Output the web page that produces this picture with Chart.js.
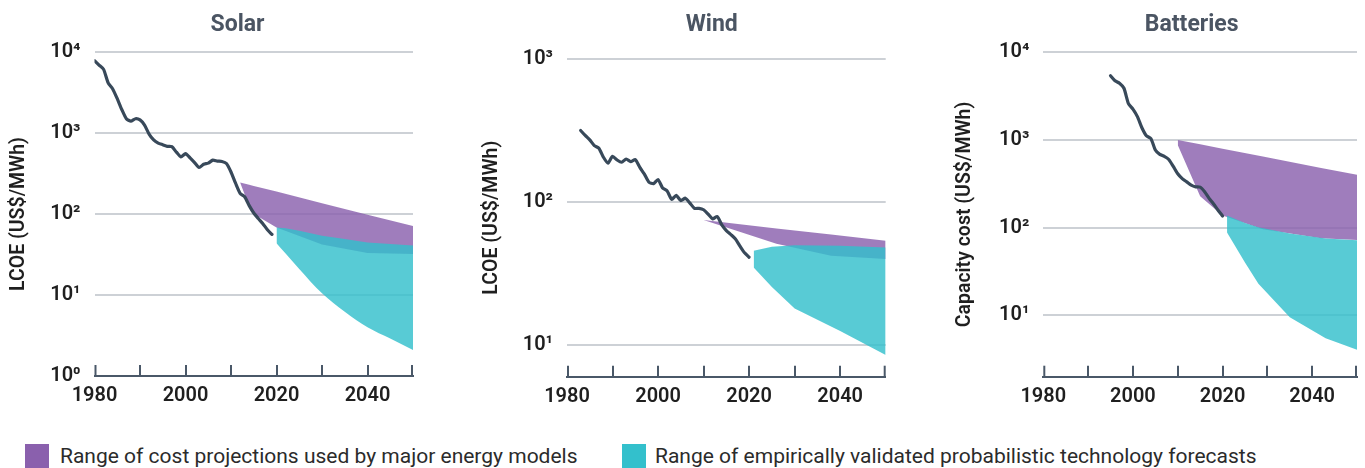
<!DOCTYPE html>
<html>
<head>
<meta charset="utf-8">
<title>Solar, wind and battery cost trajectories</title>
<script src="https://cdn.jsdelivr.net/npm/chart.js@4.4.1/dist/chart.umd.min.js"></script>
<style>
  html, body { margin: 0; padding: 0; background: #fff; }
  body { width: 1365px; height: 468px; overflow: hidden; position: relative; font-family: Roboto, "Liberation Sans", sans-serif; }
  .panel { position: absolute; top: 0; height: 430px; }
  .panel canvas { display: block; }
  .legend-item { position: absolute; top: 444px; height: 24px; white-space: nowrap; }
  .legend-item .swatch { position: absolute; left: 0; top: 0; width: 24px; height: 24px; }
  .legend-item .label { position: absolute; top: -1px; font-size: 21px; line-height: 27px; color: #2b2b2b; }
</style>
</head>
<body>
<div class="panel" style="left:0px;width:430px"><canvas id="solarChart" width="430" height="430"></canvas></div>
<div class="panel" style="left:473px;width:430px"><canvas id="windChart" width="430" height="430"></canvas></div>
<div class="panel" style="left:946px;width:419px"><canvas id="batteryChart" width="419" height="430"></canvas></div>

<div class="legend-item" style="left:25px"><span class="swatch" style="background:#8a60ad"></span><span class="label" style="left:35px">Range of cost projections used by major energy models</span></div>
<div class="legend-item" style="left:622px"><span class="swatch" style="background:#33c0cc"></span><span class="label" style="left:33px">Range of empirically validated probabilistic technology forecasts</span></div>

<script>
// ---- Solar: historical LCOE (US$/MWh) ----
const solarYears = [1980, 1981, 1982, 1983, 1984, 1985, 1986, 1987, 1988, 1989,
                    1990, 1991, 1992, 1993, 1994, 1995, 1996, 1997, 1998, 1999,
                    2000, 2001, 2002, 2003, 2004, 2005, 2006, 2007, 2008, 2009,
                    2010, 2011, 2012, 2013, 2014, 2015, 2016, 2017, 2018, 2019];
const solarCost = [7800, 6900, 6100, 4150, 3500, 2650, 1950, 1500, 1400, 1500,
                   1450, 1250, 970, 820, 750, 717, 685, 680, 580, 507,
                   556, 493, 431, 375, 411, 425, 462, 450, 445, 420,
                   330, 240, 180, 163, 127, 103, 88, 76, 64, 56];
// Solar: energy-model projection range
const solarModelYears = [2012, 2014, 2015, 2020, 2030, 2040, 2050];
const solarModelLow   = [245, 125, 100, 68, 42, 33, 32];
const solarModelHigh  = [245, 230, 222, 189, 136, 98, 71];
// Solar: probabilistic forecast range
const solarForecastYears = [2020, 2022, 2025, 2030, 2035, 2040, 2045, 2050];
const solarForecastLow   = [43.5, 32.5, 21, 10.5, 6.2, 4.0, 2.9, 2.1];
const solarForecastHigh  = [68, 66.5, 62, 54, 49, 44.6, 42.5, 40.8];

// ---- Wind: historical LCOE (US$/MWh) ----
const windYears = [1983, 1984, 1985, 1986, 1987, 1988, 1989, 1990, 1991, 1992,
                   1993, 1994, 1995, 1996, 1997, 1998, 1999, 2000, 2001, 2002,
                   2003, 2004, 2005, 2006, 2007, 2008, 2009, 2010, 2011, 2012,
                   2013, 2014, 2015, 2016, 2017, 2018, 2019, 2020];
const windCost = [315, 291, 271, 247, 237, 205, 186, 208, 196, 189,
                  199, 191, 197, 174, 156, 137, 134, 143, 125, 119,
                  104, 111, 102, 106, 98, 90, 90, 88, 82, 76,
                  79, 69, 63, 59, 55, 49, 44, 41];
const windModelYears = [2010, 2026, 2038, 2050];
const windModelLow   = [74.5, 51, 42, 39.8];
const windModelHigh  = [74.5, 65.2, 59, 53.5];
const windForecastYears = [2021, 2025, 2030, 2040, 2050];
const windForecastLow   = [34.8, 25.4, 18, 12.5, 8.5];
const windForecastHigh  = [45.5, 48.5, 49.7, 49.3, 48];

// ---- Batteries: historical capacity cost (US$/MWh) ----
const batteryYears = [1995, 1996, 1997, 1998, 1999, 2000, 2001, 2002, 2003, 2004,
                      2005, 2006, 2007, 2008, 2009, 2010, 2011, 2012, 2013, 2014,
                      2015, 2016, 2017, 2018, 2019, 2020];
const batteryCost = [5400, 4730, 4440, 3890, 2600, 2250, 1850, 1380, 1120, 1040,
                     770, 685, 650, 600, 500, 412, 363, 333, 305, 292,
                     290, 257, 216, 186, 158, 136];
const batteryModelYears = [2010, 2015, 2020, 2029, 2042, 2050];
const batteryModelLow   = [875, 228, 138, 96, 76, 72.6];
const batteryModelHigh  = [1000, 892, 796, 648, 481, 401];
const batteryForecastYears = [2021, 2025, 2028, 2035, 2043, 2050];
const batteryForecastLow   = [88, 40, 23, 9.5, 5.5, 4.05];
const batteryForecastHigh  = [138, 113, 101, 86, 75.5, 72];

// ---- Axis ticks ----
const yearTicks = [1980, 1990, 2000, 2010, 2020, 2030, 2040, 2050];
const yearLabels = [1980, 2000, 2020, 2040];
const superscripts = ['\u2070', '\u00B9', '\u00B2', '\u00B3', '\u2074'];

// ---- Styling ----
const PURPLE_FILL = 'rgba(138, 96, 173, 0.82)';
const TEAL_FILL = 'rgba(51, 192, 204, 0.82)';
const LINE_COLOR = '#38495a';
const AXIS_COLOR = '#4a5868';
const GRID_COLOR = '#cdd1d6';
const TICK_FONT = { family: 'Roboto, "Liberation Sans", sans-serif', size: 20, weight: 600 };
const AXIS_TITLE_FONT = { family: 'Roboto, "Liberation Sans", sans-serif', size: 19.5, weight: 600 };

const pairs = (xs, ys) => xs.map((x, i) => ({ x, y: ys[i] }));

// Upward tick marks along the year axis
const upTicks = {
  id: 'upTicks',
  afterDatasetsDraw(chart) {
    const { ctx, chartArea } = chart;
    const xs = chart.scales.x;
    ctx.save();
    ctx.strokeStyle = AXIS_COLOR;
    ctx.lineWidth = 2;
    yearTicks.forEach(yr => {
      const px = Math.round(xs.getPixelForValue(yr));
      const xx = Math.min(Math.max(px, chartArea.left + 1), chartArea.right - 1);
      ctx.beginPath();
      ctx.moveTo(xx, chartArea.bottom);
      ctx.lineTo(xx, chartArea.bottom - 11);
      ctx.stroke();
    });
    ctx.restore();
  }
};

// Panel heading
const panelTitle = {
  id: 'panelTitle',
  afterDraw(chart, args, opts) {
    const { ctx } = chart;
    ctx.save();
    ctx.font = '700 23px Roboto, "Liberation Sans", sans-serif';
    ctx.fillStyle = '#4b5563';
    ctx.textAlign = 'center';
    ctx.textBaseline = 'middle';
    ctx.fillText(opts.text, opts.x, opts.y);
    ctx.restore();
  }
};

function decades(min, max) {
  const out = [];
  for (let e = Math.ceil(Math.log10(min) - 1e-9); e <= Math.floor(Math.log10(max) + 1e-9); e++) out.push(Math.pow(10, e));
  return out;
}

function makePanel(canvasId, p) {
  const edge = { borderColor: 'rgba(0,0,0,0)', borderWidth: 0, pointRadius: 0 };
  return new Chart(document.getElementById(canvasId), {
    type: 'line',
    data: {
      datasets: [
        { ...edge, data: pairs(p.modelYears, p.modelLow), fill: false, order: 3 },
        { ...edge, data: pairs(p.modelYears, p.modelHigh), fill: '-1', backgroundColor: PURPLE_FILL, order: 3 },
        { ...edge, data: pairs(p.fcYears, p.fcLow), fill: false, order: 2,
          cubicInterpolationMode: p.smoothLow ? 'monotone' : 'default', tension: p.smoothLow ? 0.4 : 0 },
        { ...edge, data: pairs(p.fcYears, p.fcHigh), fill: '-1', backgroundColor: TEAL_FILL, order: 2 },
        { data: pairs(p.histYears, p.hist), borderColor: LINE_COLOR, borderWidth: 3.2, pointRadius: 0, tension: 0.2, fill: false, order: 1, borderCapStyle: 'round', borderJoinStyle: 'round' }
      ]
    },
    options: {
      responsive: false,
      animation: false,
      events: [],
      layout: { padding: { top: p.top, right: p.padRight, left: 0, bottom: 0 } },
      plugins: {
        legend: { display: false },
        tooltip: { enabled: false },
        panelTitle: { text: p.title, x: p.titleX, y: 25 }
      },
      scales: {
        x: {
          type: 'linear', min: 1980, max: 2050,
          afterBuildTicks: s => { s.ticks = yearTicks.map(v => ({ value: v })); },
          afterFit: s => { s.height = p.axisHeight; },
          ticks: {
            autoSkip: false, maxRotation: 0, padding: 8,
            color: '#1f1f1f', font: TICK_FONT,
            callback: v => (yearLabels.includes(v) ? String(v) : '')
          },
          grid: { display: false, drawTicks: false },
          border: { display: true, color: AXIS_COLOR, width: 2 }
        },
        y: {
          type: 'logarithmic', min: p.yMin, max: p.yMax,
          afterBuildTicks: s => { s.ticks = decades(p.yMin, p.yMax).map(v => ({ value: v })); },
          afterFit: s => { s.width = p.axisWidth; },
          ticks: {
            padding: 14, color: '#1f1f1f', font: TICK_FONT,
            callback: v => '10' + superscripts[Math.round(Math.log10(v))]
          },
          grid: {
            drawTicks: false, lineWidth: 2,
            color: c => (c.tick && c.tick.value <= p.yMin * 1.0001 ? 'rgba(0,0,0,0)' : GRID_COLOR)
          },
          border: { display: false },
          title: { display: true, text: p.yTitle, color: '#1f1f1f', font: AXIS_TITLE_FONT, padding: { top: 7, bottom: 0 } }
        }
      }
    },
    plugins: [upTicks, panelTitle]
  });
}

makePanel('solarChart', {
  title: 'Solar', titleX: 237.5, yTitle: 'LCOE (US$/MWh)',
  histYears: solarYears, hist: solarCost,
  modelYears: solarModelYears, modelLow: solarModelLow, modelHigh: solarModelHigh,
  fcYears: solarForecastYears, fcLow: solarForecastLow, fcHigh: solarForecastHigh, smoothLow: true,
  yMin: 1, yMax: 10000, top: 52, padRight: 17, axisWidth: 94.5, axisHeight: 54
});

makePanel('windChart', {
  title: 'Wind', titleX: 238.7, yTitle: 'LCOE (US$/MWh)',
  histYears: windYears, hist: windCost,
  modelYears: windModelYears, modelLow: windModelLow, modelHigh: windModelHigh,
  fcYears: windForecastYears, fcLow: windForecastLow, fcHigh: windForecastHigh,
  yMin: 6, yMax: 1000, top: 58.7, padRight: 17.3, axisWidth: 94, axisHeight: 53.3
});

makePanel('batteryChart', {
  title: 'Batteries', titleX: 245.7, yTitle: 'Capacity cost (US$/MWh)',
  histYears: batteryYears, hist: batteryCost,
  modelYears: batteryModelYears, modelLow: batteryModelLow, modelHigh: batteryModelHigh,
  fcYears: batteryForecastYears, fcLow: batteryForecastLow, fcHigh: batteryForecastHigh,
  yMin: 2, yMax: 10000, top: 52.3, padRight: 2.3, axisWidth: 97.3, axisHeight: 53.3
});
</script>
</body>
</html>
